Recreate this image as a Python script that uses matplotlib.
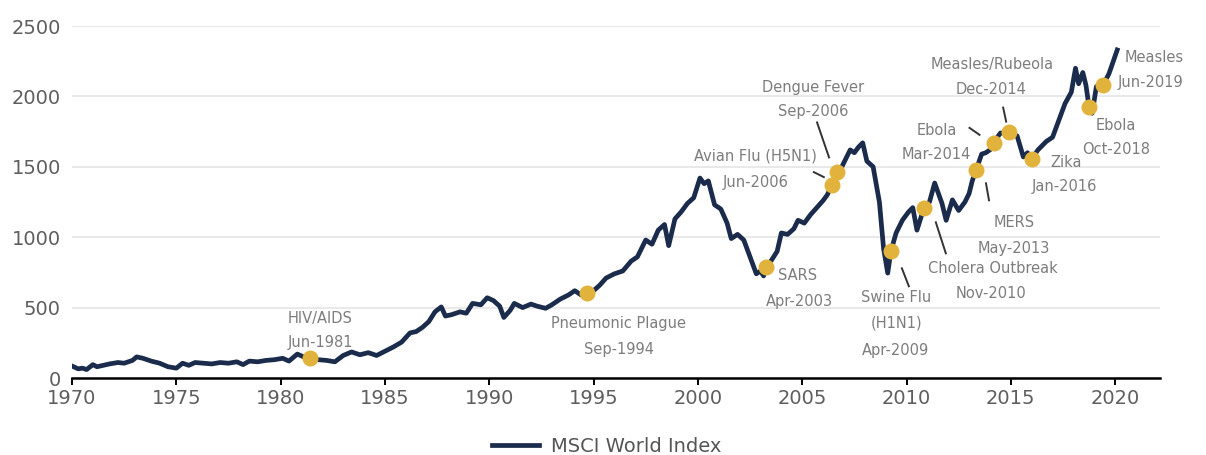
import matplotlib.pyplot as plt

# MSCI World Index, price level (year, value)
years = [1970.0, 1970.3, 1970.5, 1970.7, 1971.0, 1971.2, 1971.5, 1971.8, 1972.2, 1972.5,
         1972.9, 1973.1, 1973.4, 1973.8, 1974.2, 1974.6, 1975.0, 1975.3, 1975.6, 1975.9,
         1976.3, 1976.7, 1977.1, 1977.5, 1977.9, 1978.2, 1978.5, 1978.9, 1979.3, 1979.7,
         1980.1, 1980.4, 1980.8, 1981.1, 1981.42, 1981.8, 1982.2, 1982.6, 1983.0, 1983.4,
         1983.8, 1984.2, 1984.6, 1985.0, 1985.4, 1985.8, 1986.2, 1986.5, 1986.8, 1987.1,
         1987.4, 1987.7, 1987.9, 1988.2, 1988.6, 1988.9, 1989.2, 1989.6, 1989.9, 1990.2,
         1990.5, 1990.7, 1991.0, 1991.2, 1991.6, 1992.0, 1992.3, 1992.7, 1993.0, 1993.4,
         1993.8, 1994.1, 1994.4, 1994.67, 1995.0, 1995.3, 1995.6, 1996.0, 1996.4, 1996.8,
         1997.1, 1997.5, 1997.8, 1998.1, 1998.4, 1998.6, 1998.9, 1999.2, 1999.5, 1999.8,
         2000.1, 2000.3, 2000.5, 2000.8, 2001.1, 2001.4, 2001.6, 2001.9, 2002.2, 2002.5,
         2002.8, 2003.0, 2003.15, 2003.25, 2003.5, 2003.8, 2004.0, 2004.3, 2004.6, 2004.8,
         2005.1, 2005.4, 2005.7, 2006.0, 2006.2, 2006.42, 2006.67, 2006.9, 2007.1, 2007.3,
         2007.5, 2007.7, 2007.9, 2008.1, 2008.4, 2008.7, 2008.9, 2009.1, 2009.25, 2009.5,
         2009.8, 2010.1, 2010.3, 2010.5, 2010.83, 2011.1, 2011.35, 2011.7, 2011.9, 2012.2,
         2012.5, 2012.8, 2013.0, 2013.15, 2013.33, 2013.6, 2013.8, 2014.0, 2014.17, 2014.5,
         2014.7, 2014.92, 2015.3, 2015.6, 2015.8, 2016.0, 2016.3, 2016.7, 2017.0, 2017.3,
         2017.6, 2017.9, 2018.1, 2018.25, 2018.45, 2018.6, 2018.75, 2018.9, 2019.1, 2019.42,
         2019.7, 2020.1]
values = [85, 65, 70, 60, 95, 80, 90, 100, 110, 105,
          125, 150, 140, 120, 105, 80, 70, 105, 90, 110,
          105, 100, 110, 105, 115, 95, 120, 115, 125, 130,
          140, 120, 170, 150, 140, 130, 125, 115, 160, 185,
          165, 180, 160, 190, 220, 255, 320, 330, 360, 400,
          470, 505, 440, 450, 470, 460, 530, 520, 570, 550,
          510, 430, 480, 530, 500, 525, 510, 495, 520, 560,
          590, 620, 590, 605, 620, 660, 710, 740, 760, 830,
          860, 980, 950, 1050, 1090, 940, 1130, 1180, 1240, 1280,
          1420, 1380, 1400, 1230, 1200, 1100, 990, 1020, 980, 860,
          740, 760, 725, 790, 830, 900, 1030, 1020, 1060, 1120,
          1100, 1160, 1210, 1260, 1300, 1370, 1460, 1500, 1560, 1620,
          1600, 1640, 1670, 1540, 1500, 1250, 920, 745, 900, 1030,
          1120, 1180, 1210, 1050, 1205, 1250, 1385, 1240, 1120, 1265,
          1190, 1250, 1310, 1400, 1475, 1590, 1600, 1620, 1670, 1740,
          1740, 1750, 1720, 1570, 1600, 1555, 1620, 1680, 1710, 1830,
          1950, 2030, 2200, 2090, 2170, 2080, 1925, 1880, 2070, 2080,
          2160, 2330]

# outbreak events: name, date label, decimal date, index level
event_names = ["HIV/AIDS", "Pneumonic Plague", "SARS", "Avian Flu (H5N1)", "Dengue Fever",
               "Swine Flu\n(H1N1)", "Cholera Outbreak", "MERS", "Ebola", "Measles/Rubeola",
               "Zika", "Ebola", "Measles"]
event_dates = ["Jun-1981", "Sep-1994", "Apr-2003", "Jun-2006", "Sep-2006", "Apr-2009",
               "Nov-2010", "May-2013", "Mar-2014", "Dec-2014", "Jan-2016", "Oct-2018", "Jun-2019"]
event_x = [1981.42, 1994.67, 2003.25, 2006.42, 2006.67, 2009.25, 2010.83, 2013.33,
           2014.17, 2014.92, 2016.0, 2018.75, 2019.42]
event_y = [140, 605, 790, 1370, 1460, 900, 1205, 1475, 1670, 1750, 1555, 1925, 2080]

# label offsets in pixels from the dot (name, date) and optional leader line
label_offsets = [((10, 40), (10, 16)), ((32, -31), (32, -57)), ((32, -9), (34, -35)),
                 ((-76, 29), (-76, 3)), ((-24, 85), (-24, 61)), ((5, -59), (5, -99)),
                 ((69, -60), (67, -85)), ((38, -52), (38, -78)), ((-57, 12), (-57, -12)),
                 ((-17, 67), (-18, 42)), ((34, -3), (33, -27)), ((27, -19), (27, -43)),
                 ((51, 28), (48, 3))]
leaders = {3: ((-18, 13), (-8, 8)), 4: ((-20, 50), (-8, 15)), 5: ((11, -17), (18, -35)),
           6: ((12, -14), (22, -45)), 7: ((10, -13), (13, -30)), 8: ((-24, 15), (-14, 8)),
           9: ((-6, 24), (-3, 10))}

NAVY = "#1b2b4b"
GOLD = "#e2b33c"
LABEL_GREY = "#7d7d7d"

fig = plt.figure(figsize=(12.06, 4.55), dpi=100)
ax = fig.add_axes([72 / 1206, 1 - 378 / 455, (1160 - 72) / 1206, (378 - 26) / 455])

ax.plot(years, values, color=NAVY, lw=3.4, solid_joinstyle="round", zorder=3,
        label="MSCI World Index")
ax.plot(event_x, event_y, "o", color=GOLD, ms=11.5, mec="none", zorder=4)

ax.set_xlim(1970, 2022.15)
ax.set_ylim(0, 2500)
ax.set_xticks(range(1970, 2021, 5))
ax.set_yticks(range(0, 2501, 500))
ax.grid(axis="y", color="#e3e3e3", lw=1.1, zorder=0)
ax.set_axisbelow(True)
for side in ["top", "right", "left"]:
    ax.spines[side].set_visible(False)
ax.spines["bottom"].set_linewidth(1.8)
ax.spines["bottom"].set_color("black")
ax.tick_params(axis="x", length=5, width=1.4, color="black", labelsize=14,
               labelcolor="#5e5e5e", pad=3)
ax.tick_params(axis="y", length=0, labelsize=14, labelcolor="#5e5e5e", pad=8)

for i, (name, date) in enumerate(zip(event_names, event_dates)):
    (nx, ny), (dx, dy) = label_offsets[i]
    if "\n" in name:
        first, second = name.split("\n")
        ax.annotate(first, (event_x[i], event_y[i]), xytext=(nx, ny + 13),
                    textcoords="offset pixels", ha="center", va="center",
                    fontsize=10.5, color=LABEL_GREY)
        ax.annotate(second, (event_x[i], event_y[i]), xytext=(nx + 1, ny - 13),
                    textcoords="offset pixels", ha="center", va="center",
                    fontsize=10.5, color=LABEL_GREY)
    else:
        ax.annotate(name, (event_x[i], event_y[i]), xytext=(nx, ny),
                    textcoords="offset pixels", ha="center", va="center",
                    fontsize=10.5, color=LABEL_GREY)
    ax.annotate(date, (event_x[i], event_y[i]), xytext=(dx, dy),
                textcoords="offset pixels", ha="center", va="center",
                fontsize=10.5, color=LABEL_GREY)

# short leader strokes between a label and its dot (limits are fixed above)
for i, (start, end) in leaders.items():
    px, py = ax.transData.transform((event_x[i], event_y[i]))
    inv = ax.transData.inverted()
    p0 = inv.transform((px + start[0], py + start[1]))
    p1 = inv.transform((px + end[0], py + end[1]))
    ax.plot([p0[0], p1[0]], [p0[1], p1[1]], color="#333333", lw=1.4, zorder=2)

fig.legend(loc="center", bbox_to_anchor=(0.503, 1 - 446 / 455), frameon=False,
           fontsize=14, handlelength=2.4, handletextpad=0.6, labelcolor="#555555",
           borderpad=0.2)

fig.savefig("out.png", dpi=100)
